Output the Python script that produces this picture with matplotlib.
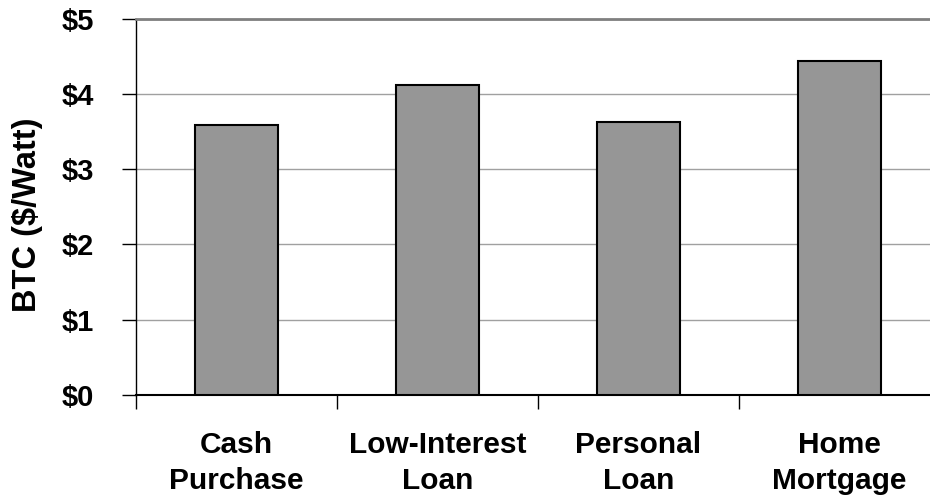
import matplotlib.pyplot as plt
import numpy as np

categories = ["Cash\nPurchase", "Low-Interest\nLoan", "Personal\nLoan", "Home\nMortgage"]
btc = [3.59, 4.12, 3.62, 4.44]
yticks = [0, 1, 2, 3, 4, 5]
ytick_labels = ["$0", "$1", "$2", "$3", "$4", "$5"]

plt.rcParams["font.family"] = ["Liberation Sans", "DejaVu Sans"]
plt.rcParams["font.weight"] = "bold"

fig = plt.figure(figsize=(9.3, 5.01), dpi=100)
ax = fig.add_axes([136 / 930, 106 / 501, 804 / 930, 376.5 / 501])

x = np.arange(len(categories))
ax.bar(x, btc, width=0.41, color="#969696", edgecolor="black", linewidth=1.5, zorder=3)

ax.set_xlim(-0.5, 3.5)
ax.set_ylim(0, 5)
ax.set_yticks(yticks)
ax.set_yticklabels(ytick_labels)
ax.yaxis.grid(True, color="#a0a0a0", linewidth=1.0, zorder=0)

ax.set_xticks(x)
ax.set_xticklabels(categories, linespacing=1.38)
ax.set_xticks(np.arange(-0.5, 4, 1), minor=True)
ax.tick_params(axis="x", which="major", length=0, pad=26, labelsize=21.5)
ax.tick_params(axis="x", which="minor", length=10, width=1, direction="out")
ax.tick_params(axis="y", length=10, width=1, direction="out", pad=20, labelsize=21)

ax.spines["right"].set_visible(False)
ax.spines["top"].set_color("#808080")
ax.spines["top"].set_linewidth(2)
ax.spines["left"].set_linewidth(1)
ax.spines["bottom"].set_linewidth(1.5)

ax.set_ylabel("BTC ($/Watt)", fontsize=23.5, fontweight="bold")
ax.yaxis.set_label_coords(-0.116, 0.478)

fig.savefig("out.png", dpi=100)
